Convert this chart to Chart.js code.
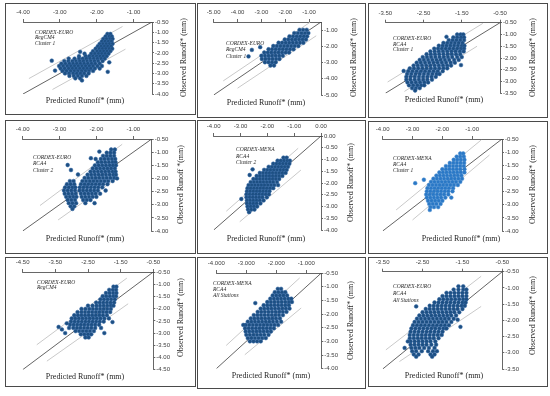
<!DOCTYPE html>
<html><head><meta charset="utf-8">
<script src="https://cdn.jsdelivr.net/npm/chart.js@4.4.1/dist/chart.umd.min.js"></script>
<style>
html,body{margin:0;padding:0;background:#fff;}
#wrap{position:relative;width:550px;height:396px;overflow:hidden;background:#fff;}
canvas{position:absolute;left:0;top:0;pointer-events:none;}
.box{position:absolute;border:1px solid #4a4a4a;box-sizing:border-box;}
.t{position:absolute;font-family:"Liberation Serif",serif;font-size:8px;line-height:9px;color:#262626;white-space:nowrap;transform:translate(-50%,-50%);}
.r{position:absolute;width:10px;height:110px;font-family:"Liberation Serif",serif;font-size:8px;line-height:10px;color:#262626;white-space:nowrap;writing-mode:vertical-rl;text-align:center;transform:rotate(180deg);}
.a{position:absolute;font-family:"Liberation Serif",serif;font-style:italic;font-size:5.5px;line-height:6px;color:#262626;white-space:nowrap;transform:translateY(-50%);}
</style></head><body><div id="wrap"></div>
<script>
// ---------- DATA (rows: [observed y, [predicted x ...]]) ----------
const p1Points = [
[-1.08,[-1.71,-1.63]],[-1.20,[-1.76,-1.66,-1.59]],[-1.32,[-1.82,-1.73,-1.64,-1.57]],
[-1.44,[-1.86,-1.77,-1.68,-1.60]],[-1.56,[-1.92,-1.83,-1.74,-1.65,-1.57]],
[-1.68,[-1.97,-1.88,-1.79,-1.70,-1.61]],[-1.80,[-2.03,-1.93,-1.84,-1.75,-1.66,-1.58]],
[-1.92,[-2.10,-1.99,-1.90,-1.81,-1.72,-1.63]],[-2.04,[-2.33,-2.15,-2.05,-1.95,-1.86,-1.77,-1.68]],
[-2.16,[-2.48,-2.30,-2.20,-2.10,-2.00,-1.91,-1.82,-1.73]],
[-2.28,[-2.76,-2.60,-2.48,-2.38,-2.28,-2.18,-2.08,-1.98,-1.88,-1.78]],
[-2.40,[-2.88,-2.77,-2.66,-2.56,-2.46,-2.36,-2.26,-2.16,-2.06,-1.96,-1.84]],
[-2.52,[-2.96,-2.85,-2.74,-2.64,-2.54,-2.44,-2.34,-2.24,-2.14,-2.04,-1.92]],
[-2.64,[-3.02,-2.91,-2.80,-2.70,-2.60,-2.50,-2.40,-2.30,-2.20,-2.10,-1.98,-1.86]],
[-2.76,[-2.98,-2.87,-2.76,-2.66,-2.56,-2.46,-2.36,-2.26,-2.16,-2.05,-1.92]],
[-2.88,[-2.93,-2.82,-2.71,-2.61,-2.51,-2.41,-2.31,-2.21,-2.10]],
[-3.00,[-2.86,-2.75,-2.64,-2.54,-2.44,-2.34,-2.22]],[-3.12,[-2.74,-2.62,-2.51,-2.40,-2.28]],
[-3.24,[-2.58,-2.45]],[-2.38,[-3.22]],[-2.86,[-3.13]],[-3.34,[-2.40]],[-2.92,[-1.70]],[-2.46,[-1.66]],[-1.95,[-2.45]]
];
const p2Points = [
[-0.98,[-1.40,-1.25,-1.10]],[-1.18,[-1.62,-1.47,-1.32,-1.17,-1.03]],
[-1.38,[-1.82,-1.67,-1.52,-1.37,-1.22,-1.08]],[-1.58,[-2.02,-1.87,-1.72,-1.57,-1.42,-1.27,-1.13]],
[-1.78,[-2.28,-2.13,-1.98,-1.83,-1.68,-1.53,-1.38,-1.24]],
[-1.98,[-2.50,-2.35,-2.20,-2.05,-1.90,-1.75,-1.60,-1.45]],
[-2.18,[-2.70,-2.55,-2.40,-2.25,-2.10,-1.95,-1.80,-1.65]],
[-2.38,[-2.88,-2.73,-2.58,-2.43,-2.28,-2.13,-1.98,-1.84]],
[-2.58,[-3.00,-2.85,-2.70,-2.55,-2.40,-2.25,-2.10]],[-2.78,[-2.98,-2.83,-2.68,-2.53,-2.38,-2.24]],
[-2.98,[-2.85,-2.70,-2.55,-2.40]],[-3.18,[-2.62,-2.47]],
[-2.22,[-3.40]],[-2.62,[-3.54]],[-2.05,[-3.05]]
];
const p3Points = [
[-1.00,[-1.62,-1.53,-1.46]],[-1.12,[-1.72,-1.62,-1.52,-1.44]],[-1.24,[-1.84,-1.74,-1.64,-1.54,-1.44]],
[-1.36,[-1.98,-1.88,-1.78,-1.68,-1.58,-1.48]],[-1.48,[-2.10,-2.00,-1.90,-1.80,-1.70,-1.60,-1.50,-1.43]],
[-1.60,[-2.22,-2.12,-2.02,-1.92,-1.82,-1.72,-1.62,-1.52,-1.44]],
[-1.72,[-2.32,-2.21,-2.10,-1.99,-1.88,-1.77,-1.66,-1.55,-1.45]],
[-1.84,[-2.42,-2.31,-2.20,-2.09,-1.98,-1.87,-1.76,-1.65,-1.54]],
[-1.96,[-2.52,-2.41,-2.30,-2.19,-2.08,-1.97,-1.86,-1.75,-1.62,-1.50]],
[-2.08,[-2.60,-2.49,-2.38,-2.27,-2.16,-2.05,-1.94,-1.83,-1.70,-1.58]],
[-2.20,[-2.68,-2.57,-2.46,-2.35,-2.24,-2.13,-2.02,-1.91,-1.79,-1.68]],
[-2.32,[-2.76,-2.65,-2.54,-2.43,-2.32,-2.21,-2.10,-1.99,-1.88,-1.78]],
[-2.44,[-2.86,-2.75,-2.64,-2.53,-2.42,-2.31,-2.20,-2.09,-1.98,-1.88]],
[-2.56,[-2.90,-2.79,-2.68,-2.57,-2.46,-2.35,-2.24,-2.13,-2.00]],
[-2.68,[-2.93,-2.82,-2.71,-2.60,-2.49,-2.38,-2.27,-2.16,-2.08]],
[-2.80,[-2.95,-2.84,-2.73,-2.62,-2.51,-2.40,-2.29,-2.18]],
[-2.92,[-2.95,-2.84,-2.73,-2.62,-2.51,-2.40,-2.28]],[-3.04,[-2.92,-2.81,-2.70,-2.59,-2.48,-2.38]],
[-3.16,[-2.88,-2.77,-2.66,-2.56,-2.48]],[-3.28,[-2.80,-2.70,-2.60]],[-3.38,[-2.72]],
[-2.30,[-1.52]],[-2.55,[-3.02]],[-1.10,[-1.90]]
];
const p4Points = [
[-0.90,[-1.60,-1.50]],[-1.02,[-1.72,-1.62,-1.52]],[-1.14,[-1.82,-1.72,-1.62,-1.52]],
[-1.26,[-2.02,-1.88,-1.78,-1.68,-1.58,-1.49]],[-1.38,[-1.96,-1.86,-1.76,-1.66,-1.56,-1.48]],
[-1.50,[-2.04,-1.94,-1.84,-1.74,-1.64,-1.55,-1.47]],[-1.62,[-2.10,-2.00,-1.90,-1.80,-1.70,-1.60,-1.50]],
[-1.74,[-2.16,-2.06,-1.96,-1.86,-1.76,-1.66,-1.56,-1.48]],
[-1.86,[-2.24,-2.14,-2.04,-1.94,-1.84,-1.74,-1.64,-1.54,-1.47]],
[-1.98,[-2.32,-2.22,-2.12,-2.02,-1.92,-1.82,-1.72,-1.62,-1.52]],
[-2.10,[-2.38,-2.28,-2.18,-2.08,-1.98,-1.88,-1.78,-1.68,-1.56]],
[-2.22,[-2.42,-2.32,-2.22,-2.12,-2.02,-1.92,-1.82,-1.70]],
[-2.34,[-2.45,-2.35,-2.25,-2.15,-2.05,-1.95,-1.84]],[-2.46,[-2.46,-2.36,-2.26,-2.16,-2.06,-1.96,-1.75]],
[-2.58,[-2.42,-2.32,-2.22,-2.12,-2.02,-1.90]],[-2.70,[-2.40,-2.30,-2.20,-2.10,-2.00]],
[-2.82,[-2.36,-2.26,-2.16]],[-2.94,[-2.30,-2.05]],
[-2.10,[-2.72,-2.62]],[-2.22,[-2.80,-2.70,-2.60]],[-2.34,[-2.85,-2.75,-2.65,-2.57]],
[-2.46,[-2.88,-2.78,-2.68,-2.58]],[-2.58,[-2.86,-2.76,-2.66,-2.56]],[-2.70,[-2.82,-2.72,-2.62,-2.54]],
[-2.82,[-2.78,-2.68,-2.58]],[-2.94,[-2.75,-2.65,-2.55]],[-3.06,[-2.70,-2.60]],[-3.16,[-2.65]],
[-1.49,[-2.78]],[-1.68,[-2.69]],[-1.23,[-2.15]],[-0.98,[-1.92]],[-1.85,[-2.50]],[-2.00,[-1.44]]
];
const p5Points = [
[-0.92,[-1.40,-1.28]],[-1.05,[-1.62,-1.50,-1.38,-1.26,-1.16]],[-1.18,[-1.78,-1.66,-1.54,-1.42,-1.30,-1.18]],
[-1.31,[-1.95,-1.83,-1.71,-1.59,-1.47,-1.35,-1.23]],[-1.44,[-2.12,-2.00,-1.88,-1.76,-1.64,-1.52,-1.40,-1.28]],
[-1.57,[-2.28,-2.16,-2.04,-1.92,-1.80,-1.68,-1.56,-1.44,-1.32]],
[-1.70,[-2.40,-2.28,-2.16,-2.04,-1.92,-1.80,-1.68,-1.56,-1.44]],
[-1.83,[-2.52,-2.40,-2.28,-2.16,-2.04,-1.92,-1.80,-1.68,-1.56]],
[-1.96,[-2.62,-2.50,-2.38,-2.26,-2.14,-2.02,-1.90,-1.78,-1.64]],
[-2.09,[-2.70,-2.58,-2.46,-2.34,-2.22,-2.10,-1.98,-1.86,-1.74,-1.60]],
[-2.22,[-2.74,-2.62,-2.50,-2.38,-2.26,-2.14,-2.02,-1.90,-1.78]],
[-2.35,[-2.76,-2.64,-2.52,-2.40,-2.28,-2.16,-2.04,-1.92]],
[-2.48,[-2.78,-2.66,-2.54,-2.42,-2.30,-2.18,-2.06,-1.94]],
[-2.61,[-2.78,-2.66,-2.54,-2.42,-2.30,-2.18,-2.02]],[-2.74,[-2.76,-2.64,-2.52,-2.40,-2.28,-2.14]],
[-2.87,[-2.76,-2.64,-2.52,-2.40,-2.26]],[-3.00,[-2.74,-2.62,-2.50,-2.38]],[-3.13,[-2.72,-2.60,-2.48]],
[-3.24,[-2.68]],[-1.66,[-2.66]],[-2.68,[-2.97]],[-1.42,[-2.55]]
];
const p6Points = [
[-1.05,[-1.40,-1.30]],[-1.17,[-1.52,-1.40,-1.28]],[-1.29,[-1.62,-1.50,-1.38,-1.26]],
[-1.41,[-1.75,-1.63,-1.51,-1.39,-1.27]],[-1.53,[-1.88,-1.76,-1.64,-1.52,-1.40,-1.28]],
[-1.65,[-2.00,-1.88,-1.76,-1.64,-1.52,-1.40,-1.26]],[-1.77,[-2.10,-1.98,-1.86,-1.74,-1.62,-1.50,-1.38,-1.26]],
[-1.89,[-2.20,-2.08,-1.96,-1.84,-1.72,-1.60,-1.48,-1.36]],
[-2.01,[-2.30,-2.18,-2.06,-1.94,-1.82,-1.70,-1.58,-1.46,-1.34]],
[-2.13,[-2.38,-2.26,-2.14,-2.02,-1.90,-1.78,-1.66,-1.54,-1.40]],
[-2.25,[-2.45,-2.33,-2.21,-2.09,-1.97,-1.85,-1.73,-1.61,-1.48]],
[-2.37,[-2.50,-2.38,-2.26,-2.14,-2.02,-1.90,-1.78,-1.64]],
[-2.49,[-2.52,-2.40,-2.28,-2.16,-2.04,-1.92,-1.80,-1.66]],
[-2.61,[-2.54,-2.42,-2.30,-2.18,-2.06,-1.94,-1.80]],[-2.73,[-2.52,-2.40,-2.28,-2.16,-2.04,-1.90,-1.70]],
[-2.85,[-2.48,-2.36,-2.24,-2.12,-2.00]],[-2.97,[-2.44,-2.32,-2.20,-2.06]],[-3.09,[-2.40,-2.28,-2.14]],
[-3.20,[-2.42]],[-2.18,[-2.91]],[-2.05,[-2.62]]
];
const p7Points = [
[-1.10,[-1.72,-1.63]],[-1.23,[-1.85,-1.74,-1.64]],[-1.36,[-1.95,-1.84,-1.73,-1.63]],
[-1.49,[-2.05,-1.94,-1.83,-1.72,-1.64]],[-1.62,[-2.12,-2.01,-1.90,-1.79,-1.68]],
[-1.75,[-2.25,-2.14,-2.03,-1.92,-1.81,-1.70]],[-1.88,[-2.50,-2.36,-2.24,-2.13,-2.02,-1.91,-1.80,-1.72]],
[-2.01,[-2.70,-2.58,-2.46,-2.35,-2.24,-2.13,-2.02,-1.91,-1.80]],
[-2.14,[-2.82,-2.70,-2.59,-2.48,-2.37,-2.26,-2.15,-2.04,-1.93,-1.82]],
[-2.27,[-2.92,-2.81,-2.70,-2.59,-2.48,-2.37,-2.26,-2.15,-2.04,-1.92]],
[-2.40,[-3.00,-2.89,-2.78,-2.67,-2.56,-2.45,-2.34,-2.23,-2.12,-2.00,-1.86]],
[-2.53,[-3.02,-2.91,-2.80,-2.69,-2.58,-2.47,-2.36,-2.25,-2.14,-2.02]],
[-2.66,[-3.05,-2.94,-2.83,-2.72,-2.61,-2.50,-2.39,-2.28,-2.16]],
[-2.79,[-3.08,-2.95,-2.84,-2.73,-2.62,-2.51,-2.40,-2.28,-2.10]],
[-2.92,[-2.88,-2.77,-2.66,-2.55,-2.44,-2.32]],[-3.05,[-2.72,-2.61,-2.50,-2.40]],[-3.18,[-2.58,-2.48]],
[-2.75,[-3.40]],[-2.85,[-3.30]],[-3.00,[-3.20]],[-2.60,[-3.15]],[-2.55,[-1.75]],[-3.00,[-2.00]]
];
const p8Points = [
[-1.08,[-1.95,-1.84]],[-1.20,[-2.05,-1.93,-1.81,-1.70]],[-1.32,[-2.12,-2.00,-1.88,-1.76,-1.64]],
[-1.44,[-2.20,-2.08,-1.96,-1.84,-1.72,-1.60,-1.50]],[-1.56,[-2.30,-2.18,-2.06,-1.94,-1.82,-1.70,-1.58,-1.48]],
[-1.68,[-2.42,-2.30,-2.18,-2.06,-1.94,-1.82,-1.70,-1.58]],
[-1.80,[-2.52,-2.40,-2.28,-2.16,-2.04,-1.92,-1.80,-1.68,-1.56]],
[-1.92,[-2.62,-2.50,-2.38,-2.26,-2.14,-2.02,-1.90,-1.78,-1.66]],
[-2.04,[-2.75,-2.63,-2.51,-2.39,-2.27,-2.15,-2.03,-1.91,-1.78]],
[-2.16,[-2.85,-2.73,-2.61,-2.49,-2.37,-2.25,-2.13,-2.01,-1.88]],
[-2.28,[-2.95,-2.83,-2.71,-2.59,-2.47,-2.35,-2.23,-2.11,-1.98,-1.84]],
[-2.40,[-3.02,-2.90,-2.78,-2.66,-2.54,-2.42,-2.30,-2.18,-2.06,-1.94]],
[-2.52,[-3.04,-2.92,-2.80,-2.68,-2.56,-2.44,-2.32,-2.20,-2.08]],
[-2.64,[-3.02,-2.90,-2.78,-2.66,-2.54,-2.42,-2.30,-2.18]],
[-2.76,[-3.00,-2.88,-2.76,-2.64,-2.52,-2.40,-2.26]],[-2.88,[-2.95,-2.83,-2.71,-2.59,-2.47,-2.35]],
[-3.00,[-2.88,-2.76,-2.64,-2.52]],[-2.40,[-3.10]],[-1.60,[-2.70]]
];
const p9Points = [
[-0.95,[-1.60,-1.48]],[-1.05,[-1.72,-1.60,-1.48,-1.40]],[-1.15,[-1.90,-1.80,-1.70,-1.60,-1.50,-1.40]],
[-1.25,[-2.00,-1.90,-1.80,-1.70,-1.60,-1.50,-1.40]],[-1.35,[-2.08,-1.98,-1.88,-1.78,-1.68,-1.58,-1.48,-1.40]],
[-1.45,[-2.20,-2.10,-2.00,-1.90,-1.80,-1.70,-1.60,-1.50,-1.42]],
[-1.55,[-2.32,-2.22,-2.12,-2.02,-1.92,-1.82,-1.72,-1.62,-1.52,-1.44]],
[-1.65,[-2.42,-2.32,-2.22,-2.12,-2.02,-1.92,-1.82,-1.72,-1.62,-1.50]],
[-1.75,[-2.50,-2.40,-2.30,-2.20,-2.10,-2.00,-1.90,-1.80,-1.70,-1.58]],
[-1.85,[-2.58,-2.48,-2.38,-2.28,-2.18,-2.08,-1.98,-1.88,-1.78,-1.66]],
[-1.95,[-2.64,-2.54,-2.44,-2.34,-2.24,-2.14,-2.04,-1.94,-1.84,-1.72]],
[-2.05,[-2.70,-2.60,-2.50,-2.40,-2.30,-2.20,-2.10,-2.00,-1.90,-1.78]],
[-2.15,[-2.74,-2.64,-2.54,-2.44,-2.34,-2.24,-2.14,-2.04,-1.94,-1.84]],
[-2.25,[-2.78,-2.68,-2.58,-2.48,-2.38,-2.28,-2.18,-2.08,-1.98,-1.90]],
[-2.35,[-2.80,-2.70,-2.60,-2.50,-2.40,-2.30,-2.20,-2.10,-2.00]],
[-2.45,[-2.82,-2.72,-2.62,-2.52,-2.42,-2.32,-2.22,-2.12,-2.02]],
[-2.55,[-2.82,-2.72,-2.62,-2.52,-2.42,-2.32,-2.22,-2.10]],
[-2.65,[-2.80,-2.70,-2.60,-2.50,-2.40,-2.30,-2.18]],[-2.75,[-2.80,-2.70,-2.60,-2.50,-2.40,-2.28,-2.16]],
[-2.85,[-2.78,-2.68,-2.58,-2.46,-2.34,-2.20]],[-2.95,[-2.76,-2.66,-2.52,-2.36,-2.24,-2.14]],
[-3.05,[-2.72,-2.60,-2.30,-2.20]],[-3.12,[-2.66,-2.26]],
[-1.98,[-1.62]],[-1.57,[-2.66]],[-2.65,[-2.87]],[-2.85,[-2.95]],[-2.20,[-1.55]]
];
// reference lines: 1:1 line and the two bounds [[x,y],[x,y]]
const p1Diag=[[-4,-4],[-0.5,-0.5]], p1Upper=[[-3.84,-3.25],[-1.3,-0.72]], p1Lower=[[-3.2,-3.78],[-1.22,-1.82]];
const p2Diag=[[-5,-5],[-0.5,-0.5]], p2Upper=[[-4.6,-4.13],[-0.96,-0.52]], p2Lower=[[-4.0,-4.58],[-0.7,-1.35]];
const p3Diag=[[-3.5,-3.5],[-0.5,-0.5]], p3Upper=[[-3.44,-3.02],[-0.95,-0.53]], p3Lower=[[-3.0,-3.42],[-1.1,-1.5]];
const p4Diag=[[-4,-4],[-0.5,-0.5]], p4Upper=[[-3.53,-3.03],[-1.3,-0.7]], p4Lower=[[-3.04,-3.58],[-1.4,-1.95]];
const p5Diag=[[-4,-4],[0,0]], p5Upper=[[-3.53,-3.2],[-0.85,-0.52]], p5Lower=[[-3.03,-3.65],[-0.75,-1.45]];
const p6Diag=[[-4,-4],[0,-0.5]], p6Upper=[[-3.55,-3.2],[-0.7,-0.54]], p6Lower=[[-3.0,-3.58],[-0.42,-1.11]];
const p7Diag=[[-4.5,-4.5],[-0.5,-0.5]], p7Upper=[[-4.07,-3.48],[-1.31,-0.75]], p7Lower=[[-3.76,-4.15],[-1.27,-1.8]];
const p8Diag=[[-4,-4],[-0.5,-0.5]], p8Upper=[[-3.67,-3.15],[-1.22,-0.68]], p8Lower=[[-3.05,-3.49],[-1.17,-1.78]];
const p9Diag=[[-3.5,-3.5],[-0.5,-0.5]], p9Upper=[[-3.42,-2.91],[-1.03,-0.64]], p9Lower=[[-3.08,-3.27],[-1.03,-1.57]];
// tick labels
const ticksInt4=[-4,-3,-2,-1];
const ticksHalf4=[-4,-3.5,-3,-2.5,-2,-1.5,-1,-0.5];
const ticksInt5=[-5,-4,-3,-2,-1];
const ticksOdd35=[-3.5,-2.5,-1.5,-0.5];
const ticksHalf35=[-3.5,-3,-2.5,-2,-1.5,-1,-0.5];
const ticksInt4to0=[-4,-3,-2,-1,0];
const ticksHalf4to0=[-4,-3.5,-3,-2.5,-2,-1.5,-1,-0.5,0];
const ticksOdd45=[-4.5,-3.5,-2.5,-1.5,-0.5];
const ticksHalf45=[-4.5,-4,-3.5,-3,-2.5,-2,-1.5,-1,-0.5];
// panel annotations
const p1Labels=['CORDEX-EURO','RegCM4','Cluster 1'];
const p2Labels=['CORDEX-EURO','RegCM4','Cluster 1'];
const p3Labels=['CORDEX-EURO','RCA4','Cluster 1'];
const p4Labels=['CORDEX-EURO','RCA4','Cluster 2'];
const p5Labels=['CORDEX-MENA','RCA4','Cluster 2'];
const p6Labels=['CORDEX-MENA','RCA4','Cluster 1'];
const p7Labels=['CORDEX-EURO','RegCM4'];
const p8Labels=['CORDEX-MENA','RCA4','All Stations'];
const p9Labels=['CORDEX-EURO','RCA4','All Stations'];
const xTitle='Predicted Runoff* (mm)';
const yTitle='Observed Runoff* (mm)';
const yTitleAlt='Observed Runoff *(mm)';

// ---------- LAYOUT ----------
const DARK={fill:'#1d4f82',edge:'#3469a6'}, LIGHT={fill:'#2a78c6',edge:'#4c8fd0'};
const panels=[
 {pts:p1Points,diag:p1Diag,up:p1Upper,lo:p1Lower,lab:p1Labels,xr:[-4,-0.5],yr:[-4,-0.5],xt:ticksInt4,yt:ticksHalf4,dec:2,
  box:[5,3,196,115],area:[23,22,152,94],pred:[85,100],obs:[184,58],txt:[35,32,5.4],c:DARK,yt2:yTitle},
 {pts:p2Points,diag:p2Diag,up:p2Upper,lo:p2Lower,lab:p2Labels,xr:[-5,-0.5],yr:[-5,-0.5],xt:ticksInt5,yt:ticksInt5,dec:2,
  box:[197,3,366,118],area:[213.7,22,321,95],pred:[266,102],obs:[354,58],txt:[226,43,6.3],c:DARK,yt2:yTitle},
 {pts:p3Points,diag:p3Diag,up:p3Upper,lo:p3Lower,lab:p3Labels,xr:[-3.5,-0.5],yr:[-3.5,-0.5],xt:ticksOdd35,yt:ticksHalf35,dec:2,
  box:[368,3,548,118],area:[385.3,22.7,500,93.3],pred:[444,99],obs:[533,58],txt:[393,38,5.6],c:DARK,yt2:yTitle},
 {pts:p4Points,diag:p4Diag,up:p4Upper,lo:p4Lower,lab:p4Labels,xr:[-4,-0.5],yr:[-4,-0.5],xt:ticksInt4,yt:ticksHalf4,dec:2,
  box:[5,120,196,254],area:[22.7,139,151.7,231],pred:[85,238],obs:[181,185],txt:[33,157,6.3],c:DARK,yt2:yTitleAlt},
 {pts:p5Points,diag:p5Diag,up:p5Upper,lo:p5Lower,lab:p5Labels,xr:[-4,0],yr:[-4,0],xt:ticksInt4to0,yt:ticksHalf4to0,dec:2,
  box:[197,120,366,254],area:[213.7,136,321,230],pred:[266,238],obs:[351,183],txt:[236,149,6.6],c:DARK,yt2:yTitle},
 {pts:p6Points,diag:p6Diag,up:p6Upper,lo:p6Lower,lab:p6Labels,xr:[-4,0],yr:[-4,-0.5],xt:ticksInt4,yt:ticksHalf4,dec:2,
  box:[368,121,548,254],area:[382.7,139,502,231],pred:[461,238],obs:[533,185],txt:[393,158,5.9],c:LIGHT,yt2:yTitle},
 {pts:p7Points,diag:p7Diag,up:p7Upper,lo:p7Lower,lab:p7Labels,xr:[-4.5,-0.5],yr:[-4.5,-0.5],xt:ticksOdd45,yt:ticksHalf45,dec:2,
  box:[5,257,196,387],area:[22.7,272,153.3,369.7],pred:[85,376],obs:[181,318],txt:[37,282,5.4],c:DARK,yt2:yTitle},
 {pts:p8Points,diag:p8Diag,up:p8Upper,lo:p8Lower,lab:p8Labels,xr:[-4,-0.5],yr:[-4,-0.5],xt:ticksInt4,yt:ticksHalf4,dec:3,ydec:2,
  box:[197,257,366,389],area:[216.3,273,321.3,368.7],pred:[271,375],obs:[351,321],txt:[213,283,5.9],c:DARK,yt2:yTitle},
 {pts:p9Points,diag:p9Diag,up:p9Upper,lo:p9Lower,lab:p9Labels,xr:[-3.5,-0.5],yr:[-3.5,-0.5],xt:ticksOdd35,yt:ticksHalf35,dec:2,
  box:[368,257,548,387],area:[382.7,271.7,502.3,369],pred:[444,375],obs:[533,316],txt:[393,286,7.2],c:DARK,yt2:yTitle}
];

const wrap=document.getElementById('wrap');
function addDiv(cls,text,x,y){const d=document.createElement('div');d.className=cls;d.textContent=text;d.style.left=x+'px';d.style.top=y+'px';wrap.appendChild(d);return d;}
const XH=20, YW=30, AX='#404040';
const tickFont={family:'"Liberation Sans", Arial, sans-serif',size:6};

panels.forEach(p=>{
  const b=document.createElement('div');b.className='box';
  b.style.left=p.box[0]+'px';b.style.top=p.box[1]+'px';b.style.width=(p.box[2]-p.box[0])+'px';b.style.height=(p.box[3]-p.box[1])+'px';
  wrap.appendChild(b);
});

panels.forEach(p=>{
  const cv=document.createElement('canvas');cv.width=550;cv.height=396;wrap.appendChild(cv);
  const [L,T,R,B]=p.area;
  const pts=[];p.pts.forEach(([y,xs])=>xs.forEach(x=>pts.push({x:x,y:y})));
  const xy=a=>a.map(([x,y])=>({x:x,y:y}));
  new Chart(cv,{type:'scatter',
    data:{datasets:[
      {data:pts,pointRadius:1.9,pointBorderWidth:0.5,pointBackgroundColor:p.c.fill,pointBorderColor:p.c.edge,pointStyle:'circle'},
      {data:xy(p.diag),showLine:true,borderColor:'#3c3c3c',borderWidth:0.8,pointRadius:0},
      {data:xy(p.up),showLine:true,borderColor:'#c9c9c9',borderWidth:1,pointRadius:0},
      {data:xy(p.lo),showLine:true,borderColor:'#c9c9c9',borderWidth:1,pointRadius:0}
    ]},
    options:{responsive:false,animation:false,events:[],
      layout:{autoPadding:false,padding:{left:L,top:T-XH,right:550-R-YW,bottom:396-B}},
      plugins:{legend:{display:false},tooltip:{enabled:false}},
      scales:{
        x:{type:'linear',position:'top',min:p.xr[0],max:p.xr[1],
          afterBuildTicks:s=>{s.ticks=p.xt.map(v=>({value:v}));},
          afterFit:s=>{s.height=XH;s.paddingLeft=0;s.paddingRight=0;s.paddingTop=0;s.paddingBottom=0;},
          grid:{drawOnChartArea:false,drawTicks:true,tickLength:3,color:AX,lineWidth:0.8},
          border:{display:true,color:AX,width:0.8},
          ticks:{font:tickFont,color:AX,padding:3,maxRotation:0,autoSkip:false,callback:v=>Number(v).toFixed(p.dec)}},
        y:{type:'linear',position:'right',min:p.yr[0],max:p.yr[1],
          afterBuildTicks:s=>{s.ticks=p.yt.map(v=>({value:v}));},
          afterFit:s=>{s.width=YW;s.paddingLeft=0;s.paddingRight=0;s.paddingTop=0;s.paddingBottom=0;},
          grid:{drawOnChartArea:false,drawTicks:true,tickLength:2,color:AX,lineWidth:0.8},
          border:{display:true,color:AX,width:0.8},
          ticks:{font:tickFont,color:AX,padding:1,autoSkip:false,callback:v=>Number(v).toFixed(p.ydec||2)}}
      }}});
});

// titles and annotations on top
panels.forEach(p=>{
  addDiv('t',xTitle,p.pred[0],p.pred[1]);
  addDiv('r',p.yt2,Math.round(p.obs[0]-5),Math.round(p.obs[1]-55));
  p.lab.forEach((s,i)=>addDiv('a',s,p.txt[0],Math.round(p.txt[1]+i*p.txt[2])));
});
</script></body></html>
